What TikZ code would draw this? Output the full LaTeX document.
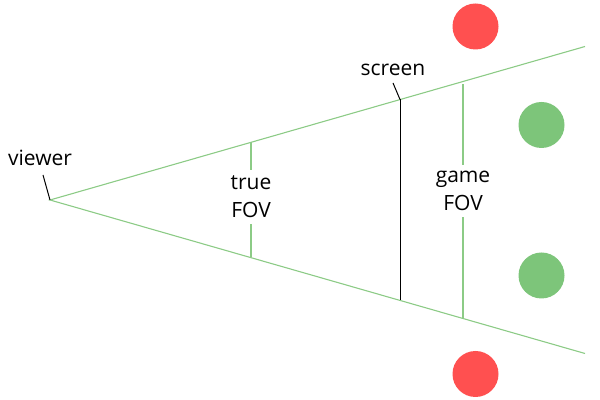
\documentclass[tikz,border=0pt]{standalone}
\usepackage{fontspec}
\setmainfont{Open Sans}
\usetikzlibrary{positioning}

\definecolor{raygreen}{HTML}{8CCB86}
\definecolor{dotgreen}{HTML}{7DC57A}
\definecolor{dotred}{HTML}{FF5050}

\tikzset{
  ray/.style={draw=raygreen, line width=0.55pt},
  leader/.style={draw=black, line width=0.5pt},
  fovlabel/.style={align=center, inner sep=3pt, font=\fontsize{10.5}{14}\selectfont},
  tag/.style={inner sep=1pt, font=\fontsize{10.5}{14}\selectfont},
  dot/.style={circle, inner sep=0pt, minimum size=23pt, fill=#1}
}

\begin{document}
\begin{tikzpicture}[x=0.5pt, y=-0.5pt]
\useasboundingbox (0,0) rectangle (600,400);

% view cone
\coordinate (viewer) at (50,200);
\coordinate (conetop) at (585,46.5);
\coordinate (conebot) at (585,353.5);
\draw[ray] (conetop) -- (viewer) -- (conebot);

% screen
\coordinate (scrtop) at (400,99.5);
\coordinate (scrbot) at (400,300.5);
\draw[leader] (scrtop) -- (scrbot);
\node[tag] (screenlbl) at (393,70) {screen};
\coordinate (scrtick) at (393,83);
\draw[leader] (scrtick) -- (scrtop);

% viewer label
\node[tag] (viewerlbl) at (40,158) {viewer};
\coordinate (viewtick) at (43,175);
\draw[leader] (viewtick) -- (viewer);

% true FOV
\coordinate (truetop) at (251,142.5);
\coordinate (truebot) at (251,257.5);
\node[fovlabel] (truefov) at (251,197) {true\\FOV};
\draw[ray] (truetop) -- (truefov.north);
\draw[ray] (truefov.south) -- (truebot);

% game FOV
\coordinate (gametop) at (463,84.5);
\coordinate (gamebot) at (463,318);
\node[fovlabel] (gamefov) at (463,191) {game\\FOV};
\draw[ray] (gametop) -- (gamefov.north);
\draw[ray] (gamefov.south) -- (gamebot);

% objects
\node[dot=dotred] (redtop) at (475.5,26.5) {};
\node[dot=dotgreen] (greentop) at (541.5,125) {};
\node[dot=dotgreen] (greenbot) at (541.5,275.5) {};
\node[dot=dotred] (redbot) at (475.5,374) {};
\end{tikzpicture}
\end{document}
